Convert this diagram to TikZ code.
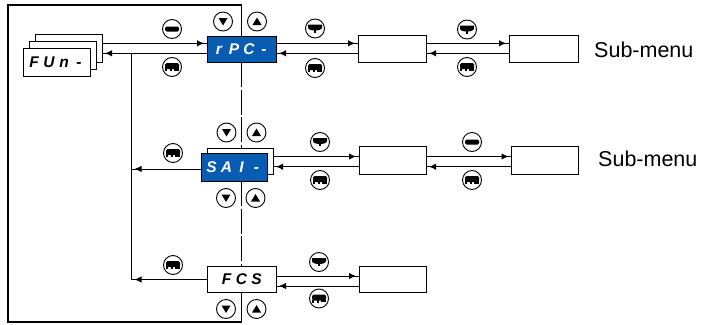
\documentclass[tikz,border=0pt]{standalone}
\usepackage{fontspec}
\setmainfont{Liberation Sans}
\usetikzlibrary{arrows.meta,decorations.markings}
\definecolor{lcdblue}{RGB}{8,92,178}
% one display digit of fixed pitch
\newcommand\sg[1]{\makebox[15pt]{#1}}

\tikzset{
  wire/.style={line width=1pt},
  tipat/.style={postaction={decorate,decoration={markings,
      mark=at position -3pt with {\arrow{Latex[length=7pt,width=6.5pt]}}}}},
  menudash/.style={dash pattern=on 25pt off 2.5pt},
  box/.style={draw, line width=1pt, fill=white, inner sep=0pt, outer sep=0pt,
      minimum width=67pt, minimum height=27pt},
  segtext/.style={font=\fontsize{15.5}{15.5}\selectfont\bfseries\itshape},
  lcd/.style={box, segtext, fill=lcdblue, text=white},
  btn/.style={circle, draw, line width=0.9pt, minimum size=19pt, inner sep=0pt, fill=white},
  downbtn/.style={btn, path picture={\fill[black, shift={(path picture bounding box.center)}]
      (-4.5,-3.5) -- (4.5,-3.5) -- (0,4) -- cycle;}},
  upbtn/.style={btn, path picture={\fill[black, shift={(path picture bounding box.center)}]
      (-4.5,3.5) -- (4.5,3.5) -- (0,-4) -- cycle;}},
  barbtn/.style={btn, path picture={\fill[black, shift={(path picture bounding box.center)},
      rounded corners=1.5pt] (-7,-2.5) rectangle (7,2.5);}},
  escbtn/.style={btn, path picture={\begin{scope}[black, shift={(path picture bounding box.center)}]
      \fill[rounded corners=1.5pt] (-7,-4) rectangle (7,2);
      \fill (-7,1) rectangle (-5,4); \fill (-2,1) rectangle (0,4);
      \fill (2,1) rectangle (7,3.5);
      \end{scope}}},
  bowlbtn/.style={btn, path picture={\begin{scope}[black, shift={(path picture bounding box.center)}]
      \fill (-7,-4) -- (7,-4) -- (7,-1) .. controls (7,3) and (-7,3) .. (-7,-1) -- cycle;
      \fill (-1.2,1) rectangle (1.2,4);
      \end{scope}}},
  sublabel/.style={anchor=west, inner sep=0pt, font=\fontsize{21.5}{22}\selectfont},
}

\begin{document}
\begin{tikzpicture}[x=1pt,y=-1pt]
\useasboundingbox (0,0) rectangle (701,324);

% levels of the forward and return lines of each row
\coordinate (r1t) at (0,43.3);  \coordinate (r1b) at (0,53.3);
\coordinate (r2t) at (0,156.5); \coordinate (r2b) at (0,166.7); \coordinate (r2l) at (0,169);
\coordinate (r3t) at (0,276);   \coordinate (r3b) at (0,286);

% frame corners
\coordinate (ftr) at (241.5,5);   \coordinate (ftl) at (8,5);
\coordinate (fbl) at (8,322);     \coordinate (fbr) at (241.5,322);
\coordinate (busTop) at (131.5,53.3);

% FUn- menu: stack of three sheets
\node[box, minimum height=28pt] (fun3) at (68.5,48) {};
\node[box, minimum height=28pt] (fun2) at (62.5,55) {};
\node[box, segtext, minimum height=28pt] (fun) at (56.5,62) {\sg{F}\sg{U}\sg{n}\sg{-}};

% row 1
\node[lcd, minimum width=69pt, minimum height=26pt] (rpc) at (241.5,49) {\sg{r}\sg{P}\sg{C}\sg{-}};
\node[box, minimum width=68pt] (m1a) at (392,48.5) {};
\node[box, minimum width=69pt] (m1b) at (543.5,48.5) {};
\node[sublabel] (sub1) at (594,50) {Sub-menu};

% row 2
\node[box, minimum width=66pt, minimum height=26pt] (saib) at (240,161) {};
\node[lcd, minimum width=66pt, minimum height=28pt] (sai) at (234,167) {\sg{S}\sg{A}\sg{I}\sg{-}};
\node[box, minimum height=28pt] (m2a) at (392.5,160) {};
\node[box, minimum height=28pt] (m2b) at (545,160) {};
\node[sublabel] (sub2) at (598,158.5) {Sub-menu};

% row 3
\node[box, segtext, minimum width=69pt, minimum height=26pt] (fcs) at (241.5,279.5) {\sg{F}\sg{C}\sg{S}};
\node[box, minimum height=26pt] (m3a) at (392.5,279.5) {};

% frame and menu spine
\draw[wire, line width=1.1pt] (rpc.north) -- (ftr) -- (ftl) -- (fbl) -- (fbr) -- (fcs.south);
\draw[wire, menudash] (rpc.south) -- (rpc.south |- saib.north);
\draw[wire, menudash] (rpc.south |- sai.south) -- (fcs.north);

% return bus on the left
\draw[wire] (busTop) -- (busTop |- fcs.west);

% row 1 connectors
\draw[wire,tipat] (fun3.east |- r1t) -- (rpc.west |- r1t);
\draw[wire,tipat] (rpc.west |- r1b) -- (fun3.east |- r1b);
\draw[wire,tipat] (rpc.east |- r1t) -- (m1a.west |- r1t);
\draw[wire,tipat] (m1a.west |- r1b) -- (rpc.east |- r1b);
\draw[wire,tipat] (m1a.east |- r1t) -- (m1b.west |- r1t);
\draw[wire,tipat] (m1b.west |- r1b) -- (m1a.east |- r1b);

% row 2 connectors
\draw[wire,tipat] (sai.west |- r2l) -- (busTop |- r2l);
\draw[wire,tipat] (saib.east |- r2t) -- (m2a.west |- r2t);
\draw[wire,tipat] (m2a.west |- r2b) -- (saib.east |- r2b);
\draw[wire,tipat] (m2a.east |- r2t) -- (m2b.west |- r2t);
\draw[wire,tipat] (m2b.west |- r2b) -- (m2a.east |- r2b);

% row 3 connectors
\draw[wire,tipat] (fcs.west) -- (busTop |- fcs.west);
\draw[wire,tipat] (fcs.east |- r3t) -- (m3a.west |- r3t);
\draw[wire,tipat] (m3a.west |- r3b) -- (fcs.east |- r3b);

% keys, row 1
\node[downbtn] (k1d) at (223,21.5) {};
\node[upbtn]   (k1u) at (257,21.5) {};
\node[barbtn]  (k1e) at (172,29) {};
\node[escbtn]  (k1x) at (172,67) {};
\node[bowlbtn] (k2e) at (315,28.5) {};
\node[escbtn]  (k2x) at (315,68) {};
\node[bowlbtn] (k3e) at (467,29.5) {};
\node[escbtn]  (k3x) at (467,67) {};

% keys, row 2
\node[downbtn] (k4d) at (226.5,132.5) {};
\node[upbtn]   (k4u) at (256.5,132.5) {};
\node[downbtn] (k5d) at (226,198) {};
\node[upbtn]   (k5u) at (255.5,198) {};
\node[escbtn]  (k4x) at (173,153) {};
\node[bowlbtn] (k6e) at (320,142) {};
\node[escbtn]  (k6x) at (320,180) {};
\node[barbtn]  (k7e) at (472,142) {};
\node[escbtn]  (k7x) at (472,180) {};

% keys, row 3
\node[escbtn]  (k8x) at (173,265) {};
\node[bowlbtn] (k9e) at (319,262) {};
\node[escbtn]  (k9x) at (319,298.5) {};
\node[downbtn] (k10d) at (226,309) {};
\node[upbtn]   (k10u) at (256.5,309) {};
\end{tikzpicture}
\end{document}
